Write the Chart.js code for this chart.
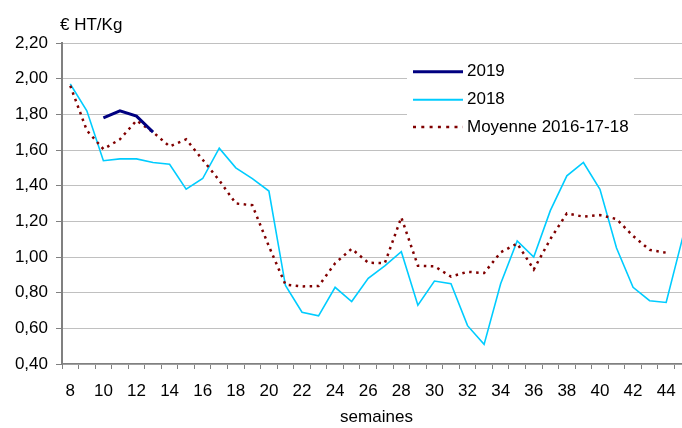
<!DOCTYPE html>
<html>
<head>
<meta charset="utf-8">
<script src="https://cdn.jsdelivr.net/npm/chart.js@4/dist/chart.umd.min.js"></script>
<style>
html, body { margin: 0; padding: 0; overflow: hidden; background: #fff; width: 682px; height: 428px; }
#wrap { width: 700px; height: 428px; }
</style>
</head>
<body>
<div id="wrap"><canvas id="c" width="700" height="428"></canvas></div>
<script>
const weeks = [8,9,10,11,12,13,14,15,16,17,18,19,20,21,22,23,24,25,26,27,28,29,30,31,32,33,34,35,36,37,38,39,40,41,42,43,44,45];
const s2019 = [null,null,1.78,1.82,1.79,1.70,null,null,null,null,null,null,null,null,null,null,null,null,null,null,null,null,null,null,null,null,null,null,null,null,null,null,null,null,null,null,null,null];
const s2018 = [1.97,1.82,1.54,1.55,1.55,1.53,1.52,1.38,1.44,1.61,1.50,1.44,1.37,0.84,0.69,0.67,0.83,0.75,0.88,0.95,1.03,0.73,0.865,0.85,0.615,0.51,0.85,1.09,1.00,1.26,1.455,1.53,1.38,1.05,0.83,0.755,0.745,1.11];
const sMoy = [1.96,1.71,1.605,1.66,1.765,1.70,1.62,1.66,1.545,1.43,1.30,1.29,1.06,0.845,0.835,0.837,0.965,1.046,0.968,0.965,1.222,0.951,0.948,0.89,0.917,0.91,1.026,1.076,0.93,1.10,1.245,1.226,1.235,1.213,1.118,1.04,1.024,null];
const yLabels = ['0,40','0,60','0,80','1,00','1,20','1,40','1,60','1,80','2,00','2,20'];
const seriesNames = ['2019','2018','Moyenne 2016-17-18'];
const unitTitle = '€ HT/Kg';
const xTitle = 'semaines';

const FONT = '"Liberation Sans", Arial, sans-serif';
const colors = ['#000080', '#00CCFF', '#800000'];

const overlay = {
  id: 'overlay',
  afterDraw(chart) {
    const ctx = chart.ctx;
    ctx.save();
    ctx.font = '17px ' + FONT;
    ctx.fillStyle = '#000';
    ctx.textBaseline = 'alphabetic';
    ctx.textAlign = 'left';
    ctx.fillText(unitTitle, 60, 30);
    // legend box
    ctx.fillStyle = '#fff';
    ctx.fillRect(407, 52, 227, 88);
    const rows = [71.7, 99.7, 127];
    const widths = [3, 2, 2.5];
    for (let i = 0; i < 3; i++) {
      ctx.beginPath();
      ctx.strokeStyle = colors[i];
      ctx.lineWidth = widths[i];
      ctx.lineCap = 'butt';
      ctx.setLineDash(i === 2 ? [3, 5.3] : []);
      ctx.moveTo(413, rows[i]);
      ctx.lineTo(463, rows[i]);
      ctx.stroke();
      ctx.setLineDash([]);
      ctx.fillStyle = '#000';
      ctx.textBaseline = 'middle';
      ctx.fillText(seriesNames[i], 467, rows[i]);
    }
    ctx.restore();
  }
};

new Chart(document.getElementById('c'), {
  type: 'line',
  data: {
    labels: weeks,
    datasets: [
      { label: seriesNames[0], data: s2019, borderColor: colors[0], borderWidth: 3, pointRadius: 0, tension: 0, order: 0 },
      { label: seriesNames[1], data: s2018, borderColor: colors[1], borderWidth: 1.6, pointRadius: 0, tension: 0, order: 2 },
      { label: seriesNames[2], data: sMoy, borderColor: colors[2], borderWidth: 2.5, borderDash: [2.5, 4.5], borderCapStyle: 'butt', pointRadius: 0, tension: 0, order: 1 }
    ]
  },
  options: {
    responsive: false,
    animation: false,
    events: [],
    layout: { padding: { top: 43, right: 9, bottom: 0, left: 0 } },
    plugins: { legend: { display: false }, tooltip: { enabled: false }, title: { display: false } },
    scales: {
      x: {
        type: 'category',
        offset: true,
        afterFit(scale) { scale.height = 64; },
        grid: { offset: true, drawOnChartArea: false, drawTicks: true, tickLength: 5, tickColor: '#808080', tickWidth: 1 },
        border: { color: '#808080', width: 1.5 },
        ticks: {
          autoSkip: false, maxRotation: 0, minRotation: 0, padding: 12,
          color: '#000', font: { family: FONT, size: 17 },
          callback(v, i) { return weeks[i] % 2 === 0 ? String(weeks[i]) : ''; }
        },
        title: { display: true, text: xTitle, color: '#000', font: { family: FONT, size: 17, lineHeight: 1.2 }, padding: { top: 0, bottom: 0 } }
      },
      y: {
        min: 0.4, max: 2.2,
        afterFit(scale) { scale.width = 62; },
        grid: { color: '#c0c0c0', lineWidth: 1, drawTicks: true, tickLength: 6, tickColor: '#808080' },
        border: { color: '#808080', width: 2 },
        ticks: {
          stepSize: 0.2, padding: 8, color: '#000', font: { family: FONT, size: 17 },
          callback(v) { return yLabels[Math.round((v - 0.4) / 0.2)]; }
        }
      }
    }
  },
  plugins: [overlay]
});
</script>
</body>
</html>
